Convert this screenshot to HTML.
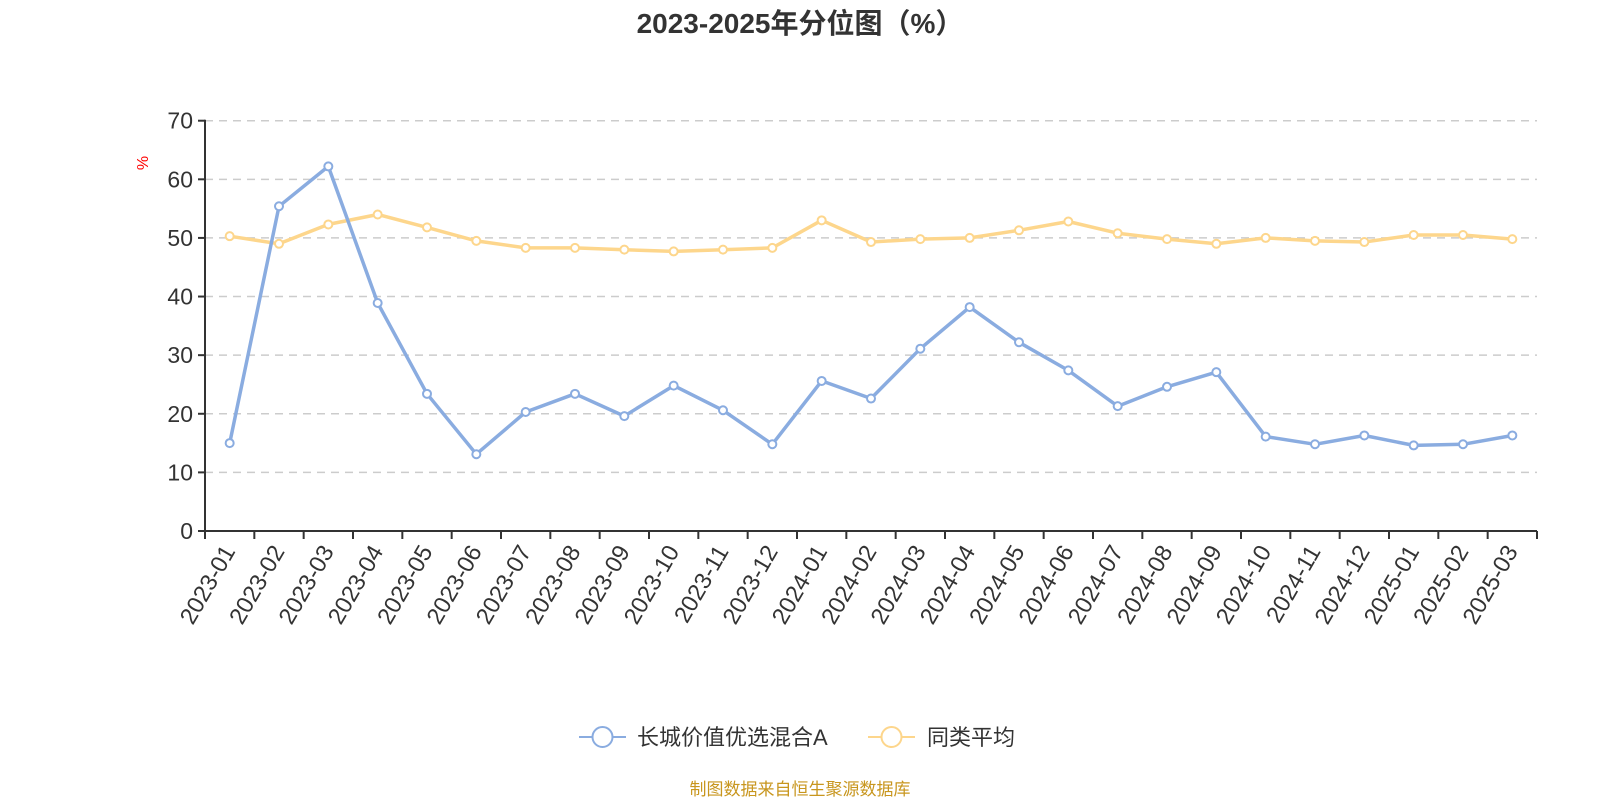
<!DOCTYPE html>
<html><head><meta charset="utf-8"><style>
html,body{margin:0;padding:0;background:#fff;}
svg{display:block;font-family:"Liberation Sans","Noto Sans CJK SC",sans-serif;}
</style></head><body>
<svg id="c" width="1600" height="800" xmlns="http://www.w3.org/2000/svg"></svg>
<script>
const blue=[15.0,55.4,62.2,38.9,23.4,13.1,20.3,23.4,19.6,24.8,20.6,14.8,25.6,22.6,31.1,38.2,32.2,27.4,21.3,24.6,27.1,16.1,14.8,16.3,14.6,14.8,16.3];
const yel=[50.3,49.0,52.3,54.0,51.8,49.5,48.3,48.3,48.0,47.7,48.0,48.3,53.0,49.3,49.8,50.0,51.3,52.8,50.8,49.8,49.0,50.0,49.5,49.3,50.5,50.5,49.8];
const labels=[];
for(let y=2023;y<=2025;y++)for(let m=1;m<=12;m++){if(y==2025&&m>3)break;labels.push(y+'-'+String(m).padStart(2,'0'));}
const x0=205,x1=1537,y0=531,yTop=120.7,n=27,bw=(x1-x0)/n;
const Y=v=>y0-(y0-yTop)*v/70, X=i=>x0+bw*(i+0.5);
let s='';
s+=`<text x="800" y="33" text-anchor="middle" font-size="28" font-weight="bold" fill="#333">2023-2025年分位图（%）</text>`;
for(let v=0;v<=70;v+=10){const y=Y(v);
 if(v>0)s+=`<line x1="${x0}" x2="${x1}" y1="${y}" y2="${y}" stroke="#ccc" stroke-width="1.5" stroke-dasharray="8,6"/>`;
 s+=`<line x1="${x0-7}" x2="${x0}" y1="${y}" y2="${y}" stroke="#333" stroke-width="2"/>`;
 s+=`<text x="${x0-12}" y="${y+8}" text-anchor="end" font-size="23" fill="#333">${v}</text>`;}
s+=`<text x="0" y="0" transform="translate(148,163) rotate(-90)" text-anchor="middle" font-size="16" fill="red">%</text>`;
s+=`<line x1="${x0}" x2="${x0}" y1="${yTop-1}" y2="${y0}" stroke="#333" stroke-width="2"/>`;
s+=`<line x1="${x0}" x2="${x1}" y1="${y0}" y2="${y0}" stroke="#333" stroke-width="2"/>`;
for(let i=0;i<=n;i++){const x=x0+bw*i;s+=`<line x1="${x}" x2="${x}" y1="${y0}" y2="${y0+8}" stroke="#333" stroke-width="2"/>`;}
labels.forEach((l,i)=>{const x=X(i)-8,y=y0+12;s+=`<text transform="translate(${x},${y}) rotate(-60)" text-anchor="end" dy="0.7em" font-size="23.5" fill="#333">${l}</text>`;});
function series(d,c){let p=d.map((v,i)=>X(i).toFixed(1)+','+Y(v).toFixed(1)).join(' ');
 let r=`<polyline points="${p}" fill="none" stroke="${c}" stroke-width="3.5" stroke-linejoin="round"/>`;
 d.forEach((v,i)=>r+=`<circle cx="${X(i)}" cy="${Y(v)}" r="4" fill="#fff" stroke="${c}" stroke-width="2"/>`);return r;}
s+=series(yel,'#fdd68c');
s+=series(blue,'#8aace0');
s+=`<line x1="579" x2="626" y1="737" y2="737" stroke="#8aace0" stroke-width="2"/><circle cx="602.5" cy="737" r="10" fill="#fff" stroke="#8aace0" stroke-width="2"/>`;
s+=`<text x="637" y="745" font-size="22" fill="#333">长城价值优选混合A</text>`;
s+=`<line x1="868" x2="915" y1="737" y2="737" stroke="#fdd68c" stroke-width="2"/><circle cx="891.5" cy="737" r="10" fill="#fff" stroke="#fdd68c" stroke-width="2"/>`;
s+=`<text x="927" y="745" font-size="22" fill="#333">同类平均</text>`;
s+=`<text x="800" y="795" text-anchor="middle" font-size="17" fill="#c8961e">制图数据来自恒生聚源数据库</text>`;
document.getElementById('c').innerHTML=s;
</script>
</body></html>
